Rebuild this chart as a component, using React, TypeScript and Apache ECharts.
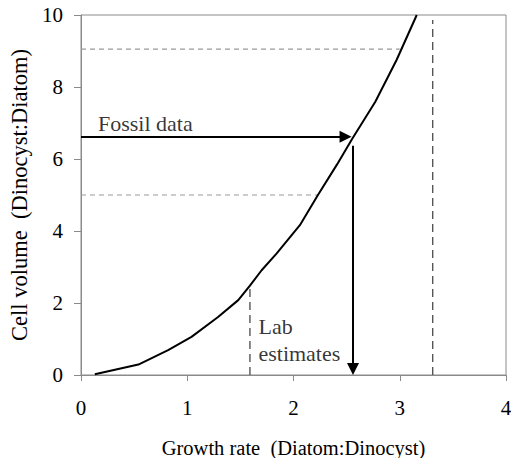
import React, { useEffect, useRef } from "react";
import * as echarts from "echarts";

// Curve: growth rate (x) vs cell volume (y)
const curveX = [0.13, 0.54, 0.82, 1.04, 1.29, 1.48, 1.59, 1.7, 1.84, 2.06, 2.23, 2.41, 2.55, 2.77, 2.97, 3.16];
const curveY = [0.02, 0.29, 0.69, 1.06, 1.61, 2.08, 2.48, 2.91, 3.37, 4.16, 5.0, 5.85, 6.55, 7.59, 8.75, 10];

// Horizontal dashed guides: y and x end
const hGuideY = [9.05, 5.0];
const hGuideXEnd = [3.0, 2.23];
// Vertical dashed guides: x and y end
const vGuideX = [1.59, 3.31];
const vGuideYEnd = [2.49, 9.86];

// Arrows: [[x0,y0],[x1,y1]]
const fossilArrow = [[0, 6.62], [2.49, 6.62]];
const labArrow = [[2.56, 6.37], [2.56, 0.17]];

const xTicks = [0, 1, 2, 3, 4];
const yTicks = [0, 2, 4, 6, 8, 10];

const annotations = [
  { name: "Fossil data", value: [0.16, 7.0] },
  { name: "Lab", value: [1.67, 1.36] },
  { name: "estimates", value: [1.67, 0.6] },
];

const FONT = "'Liberation Serif', 'Times New Roman', 'DejaVu Serif', serif";

export default function App() {
  const ref = useRef<HTMLDivElement>(null);
  useEffect(() => {
    document.body.style.margin = "0";
    const chart = echarts.init(ref.current!, null, { renderer: "svg" });
    const axisColor = "#8a8a8a";
    const series: any[] = [];
    series.push({
      type: "line",
      data: curveX.map((x, i) => [x, curveY[i]]),
      symbol: "none",
      lineStyle: { color: "#000", width: 2 },
      z: 5,
    });
    hGuideY.forEach((y, i) => {
      series.push({
        type: "line",
        data: [[0, y], [hGuideXEnd[i], y]],
        symbol: "none",
        lineStyle: { color: "#9a9a9a", width: 1.2, type: [5, 4] },
        z: 3,
      });
    });
    vGuideX.forEach((x, i) => {
      series.push({
        type: "line",
        data: [[x, 0], [x, vGuideYEnd[i]]],
        symbol: "none",
        lineStyle: { color: "#555", width: 1.4, type: [8, 5] },
        z: 3,
      });
    });
    series.push({
      type: "lines",
      coordinateSystem: "cartesian2d",
      symbol: ["none", "triangle"],
      symbolSize: [12, 12],
      lineStyle: { color: "#000", width: 2, opacity: 1 },
      itemStyle: { color: "#000" },
      data: [{ coords: fossilArrow }, { coords: labArrow }],
      z: 6,
    });
    series.push({
      type: "scatter",
      symbolSize: 0,
      data: annotations,
      label: {
        show: true,
        position: "right",
        distance: 0,
        formatter: "{b}",
        fontSize: 22,
        color: "#000",
        fontFamily: FONT,
      },
      z: 7,
    });
    chart.setOption({
      animation: false,
      textStyle: { fontFamily: FONT },
      grid: {
        left: 81,
        right: 5,
        top: 15,
        bottom: 83,
        outerBoundsMode: "none",
        containLabel: false,
        show: true,
        borderColor: axisColor,
        borderWidth: 1,
      },
      xAxis: {
        type: "value",
        min: xTicks[0],
        max: xTicks[xTicks.length - 1],
        interval: 1,
        name: "Growth rate  (Diatom:Dinocyst)",
        nameLocation: "middle",
        nameGap: 62,
        nameTextStyle: { fontSize: 20.5, color: "#000", fontFamily: FONT },
        axisLine: { lineStyle: { color: axisColor, width: 1 } },
        axisTick: { show: true, length: 6, inside: false, lineStyle: { color: axisColor } },
        axisLabel: { fontSize: 21, color: "#000", margin: 22, fontFamily: FONT },
        splitLine: { show: false },
      },
      yAxis: {
        type: "value",
        min: yTicks[0],
        max: yTicks[yTicks.length - 1],
        interval: 2,
        name: "Cell volume  (Dinocyst:Diatom)",
        nameLocation: "middle",
        nameRotate: 90,
        nameGap: 48,
        nameTextStyle: { fontSize: 22.5, color: "#000", fontFamily: FONT },
        axisLine: { show: true, lineStyle: { color: axisColor, width: 1 } },
        axisTick: { show: true, length: 7, inside: false, lineStyle: { color: axisColor } },
        axisLabel: { fontSize: 21, color: "#000", margin: 18, fontFamily: FONT },
        splitLine: { show: false },
      },
      series,
    });
    return () => chart.dispose();
  }, []);
  return <div ref={ref} style={{ width: 511, height: 458 }} />;
}
